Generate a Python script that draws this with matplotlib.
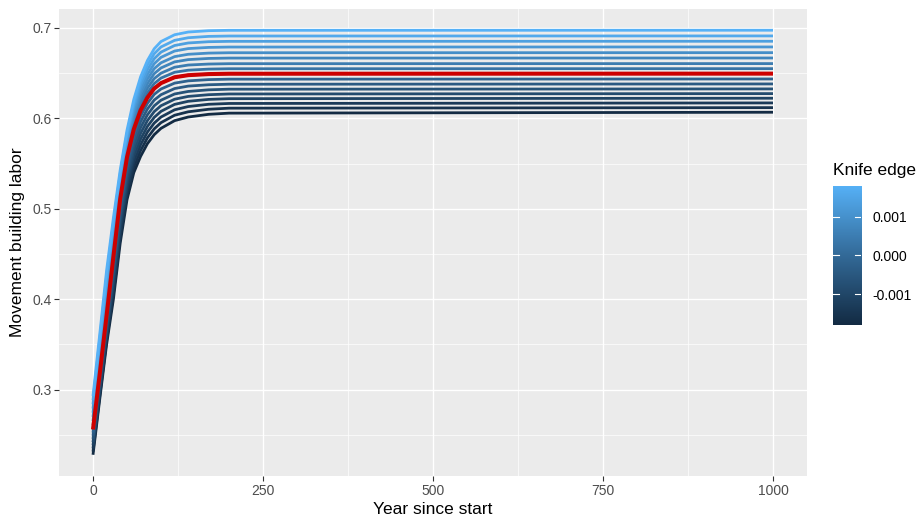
import numpy as np
import matplotlib
matplotlib.use("Agg")
import matplotlib.pyplot as plt
from matplotlib.colors import LinearSegmentedColormap, Normalize

plt.rcParams['font.family'] = ['Liberation Sans', 'DejaVu Sans']

years = [0, 10, 20, 30, 40, 50, 60, 70, 80, 90, 100, 120, 140, 170, 200, 1000]

# knife edge value of each run, low to high
knife_edge = [-0.0018, -0.001575, -0.00135, -0.001125, -0.0009, -0.000675, -0.00045, -0.000225,
              0.0, 0.000225, 0.00045, 0.000675, 0.0009, 0.001125, 0.00135, 0.001575, 0.0018]

# movement building labor for each run (same order as knife_edge)
labor = [
    [.228, .290, .350, .400, .462, .510, .540, .558, .572, .582, .589, .5975, .6015, .6045, .6058, .6068],
    [.2315, .2935, .354, .4059, .4681, .5159, .546, .5644, .5784, .5884, .5953, .6035, .6073, .6101, .6113, .6119],
    [.235, .297, .358, .4118, .4743, .5218, .552, .5708, .5848, .5948, .6015, .6095, .6131, .6156, .6165, .6171],
    [.2385, .3005, .362, .4176, .4804, .5276, .558, .5771, .5911, .6011, .6078, .6155, .6189, .6210, .6218, .6223],
    [.242, .304, .366, .4235, .4865, .5335, .564, .5835, .5975, .6075, .614, .6212, .6243, .6262, .6270, .6274],
    [.2455, .3075, .370, .4294, .4926, .5394, .570, .5899, .6039, .6139, .6201, .6270, .6298, .6316, .6323, .6326],
    [.249, .311, .374, .4353, .4988, .5453, .576, .5963, .6103, .6203, .6262, .6330, .6357, .6372, .6378, .6381],
    [.2525, .3145, .378, .4411, .5049, .5511, .582, .6026, .6166, .6266, .6325, .6390, .6415, .6429, .6434, .6436],
    [.256, .318, .382, .447, .511, .557, .588, .609, .623, .633, .639, .6455, .6478, .6490, .6494, .6495],
    [.2606, .3235, .3883, .4524, .515, .5608, .5921, .6136, .6281, .6385, .6446, .6510, .6533, .6545, .6549, .6550],
    [.2653, .329, .3945, .4578, .519, .5645, .5963, .6183, .6333, .644, .6500, .6566, .6590, .6601, .6605, .6606],
    [.2699, .3345, .4008, .4631, .523, .5683, .6004, .6229, .6384, .6495, .6558, .6625, .6650, .6663, .6667, .6668],
    [.2745, .340, .407, .4685, .527, .572, .6045, .6275, .6435, .655, .6615, .6683, .6709, .6722, .6726, .6727],
    [.2791, .3455, .4133, .4739, .531, .5758, .6086, .6321, .6486, .6605, .6675, .6745, .6772, .6785, .6789, .6790],
    [.2838, .351, .4195, .4793, .535, .5795, .6128, .6368, .6538, .666, .6733, .6806, .6834, .6848, .6852, .6853],
    [.2884, .3565, .4258, .4846, .539, .5833, .6169, .6414, .6589, .6715, .6790, .6863, .6892, .6907, .6911, .6912],
    [.293, .362, .432, .490, .543, .587, .621, .646, .664, .677, .685, .6925, .6955, .697, .6974, .6975],
]
highlight = 0.0  # run drawn in red

x_ticks = [0, 250, 500, 750, 1000]
y_ticks = [0.3, 0.4, 0.5, 0.6, 0.7]
cbar_ticks = [-0.001, 0.0, 0.001]
cbar_labels = ['-0.001', '0.000', '0.001']

W, H = 920, 523
fig = plt.figure(figsize=(W / 100, H / 100), dpi=100)
ax = fig.add_axes([59 / W, 1 - 476 / H, (807 - 59) / W, (476 - 9) / H])

cmap = LinearSegmentedColormap.from_list('gg', ['#132B43', '#336A98', '#56B1F7'])
norm = Normalize(min(knife_edge), max(knife_edge))

for k, ys in zip(knife_edge, labor):
    ax.plot(years, ys, color=cmap(norm(k)), lw=2.0, solid_capstyle='butt',
            solid_joinstyle='round', zorder=3)
i_red = knife_edge.index(highlight)
ax.plot(years, labor[i_red], color='#CD0000', lw=2.9, solid_capstyle='butt',
        solid_joinstyle='round', zorder=4)

ax.set_xlim(-50, 1050)
allv = [v for ys in labor for v in ys]
rng = max(allv) - min(allv)
ax.set_ylim(min(allv) - 0.05 * rng, max(allv) + 0.05 * rng)

ax.set_facecolor('#EBEBEB')
for s in ax.spines.values():
    s.set_visible(False)
ax.set_xticks(x_ticks)
ax.set_xticklabels([str(t) for t in x_ticks])
ax.set_yticks(y_ticks)
ax.set_yticklabels(['%.1f' % t for t in y_ticks])
ax.set_xticks([125, 375, 625, 875], minor=True)
ax.set_yticks([0.25, 0.35, 0.45, 0.55, 0.65], minor=True)
ax.grid(which='major', color='white', lw=1.0, zorder=0)
ax.grid(which='minor', color='white', lw=0.5, zorder=0)
ax.set_axisbelow(True)
ax.tick_params(which='major', length=3.5, width=0.8, color='#333333',
               labelsize=10, labelcolor='#4D4D4D', pad=2)
ax.tick_params(which='minor', length=0)

fig.text(433 / W, 1 - 510 / H, 'Year since start', ha='center', va='center', fontsize=12.5)
fig.text(18 / W, 1 - 242.5 / H, 'Movement building labor', ha='center', va='center',
         rotation=90, fontsize=12.5)

# colour bar legend
cax = fig.add_axes([833 / W, 1 - 325 / H, 28 / W, (325 - 185.7) / H])
grad = np.linspace(norm.vmin, norm.vmax, 300).reshape(-1, 1)
cax.imshow(grad, aspect='auto', origin='lower', cmap=cmap, norm=norm,
           extent=[0, 1, norm.vmin, norm.vmax])
cax.set_xlim(0, 1)
cax.set_ylim(norm.vmin, norm.vmax)
for t in cbar_ticks:
    cax.plot([0, 0.2], [t, t], color='white', lw=0.8)
    cax.plot([0.8, 1], [t, t], color='white', lw=0.8)
cax.set_xticks([])
cax.set_yticks(cbar_ticks)
cax.set_yticklabels(cbar_labels)
cax.yaxis.tick_right()
cax.tick_params(axis='y', length=0, labelsize=10, labelcolor='black', pad=8)
for s in cax.spines.values():
    s.set_visible(False)
fig.text(833 / W, 1 - 170 / H, 'Knife edge', ha='left', va='center', fontsize=12.5)

fig.savefig('out.png', dpi=100)
